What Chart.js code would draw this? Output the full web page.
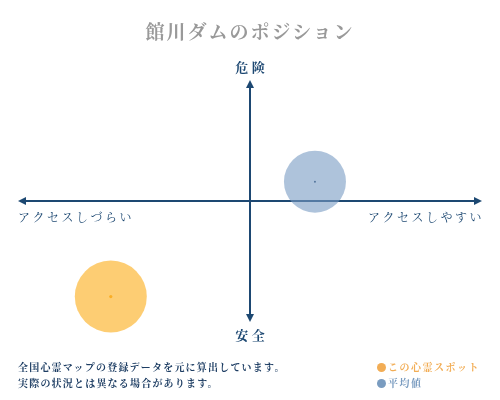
<!DOCTYPE html>
<html>
<head>
<meta charset="utf-8">
<script src="https://cdn.jsdelivr.net/npm/chart.js@4"></script>
<style>
  body { margin: 0; background: #fff; }
  #wrap { position: relative; width: 500px; height: 400px; font-family: "Noto Serif CJK JP", "Noto Sans CJK JP", sans-serif; }
  #chart { position: absolute; left: 0; top: 0; }
  .title { position: absolute; left: 0; width: 500px; top: 17px; text-align: center; font-size: 19px; letter-spacing: 2px; color: #999; font-weight: bold; }
  .note { position: absolute; left: 18px; top: 359px; font-size: 10px; line-height: 16px; letter-spacing: 1.2px; color: #1d3d63; font-weight: bold; }
  .legend { position: absolute; left: 377px; top: 359px; font-size: 10px; line-height: 16px; letter-spacing: 1.5px; font-weight: bold; }
  .legend span.dot { display: inline-block; width: 9px; height: 9px; border-radius: 50%; margin-right: 2px; vertical-align: -1px; }
</style>
</head>
<body>
<div id="wrap">
  <canvas id="chart" width="500" height="400"></canvas>
  <div class="title">館川ダムのポジション</div>
  <div class="note">全国心霊マップの登録データを元に算出しています。<br>実際の状況とは異なる場合があります。</div>
  <div class="legend" id="legend"></div>
</div>
<script>
// position of this spot and average, x: access (easy +), y: danger (+)
const seriesNames = ["この心霊スポット", "平均値"];
const xValues = [-6.0, 2.8];
const yValues = [-7.9, 1.6];
const radii = [36, 31];
const axisLabels = { top: "危 険", bottom: "安 全", left: "アクセスしづらい", right: "アクセスしやすい" };

const fillColors = ['rgba(252, 178, 40, 0.65)', 'rgba(120, 155, 195, 0.6)'];
const dotColors = ['#f5a623', '#1d3d63'];
const legendColors = ['#f2ad55', '#7a9cc0'];
const navy = '#1d4872';

const legend = document.getElementById("legend");
legend.innerHTML = seriesNames.map((n, i) =>
  `<div style="color:${legendColors[i]}"><span class="dot" style="background:${legendColors[i]}"></span>${n}</div>`
).join("");

const axesPlugin = {
  id: 'axesPlugin',
  beforeDatasetsDraw(chart) {
    const ctx = chart.ctx;
    const x = chart.scales.x, y = chart.scales.y;
    const x0 = x.getPixelForValue(0), y0 = y.getPixelForValue(0);
    const L = x.getPixelForValue(x.min), R = x.getPixelForValue(x.max);
    const T = y.getPixelForValue(y.max), B = y.getPixelForValue(y.min);
    ctx.save();
    ctx.strokeStyle = navy;
    ctx.fillStyle = navy;
    ctx.lineWidth = 2;
    ctx.beginPath();
    ctx.moveTo(L + 4, y0); ctx.lineTo(R - 4, y0);
    ctx.moveTo(x0, T + 4); ctx.lineTo(x0, B - 4);
    ctx.stroke();
    const head = (tx, ty, dx, dy) => {
      ctx.beginPath();
      ctx.moveTo(tx, ty);
      ctx.lineTo(tx - dx * 8 - dy * 4, ty - dy * 8 - dx * 4);
      ctx.lineTo(tx - dx * 8 + dy * 4, ty - dy * 8 + dx * 4);
      ctx.closePath();
      ctx.fill();
    };
    head(L, y0, -1, 0);
    head(R, y0, 1, 0);
    head(x0, T, 0, -1);
    head(x0, B, 0, 1);

    ctx.font = 'bold 13px "Noto Serif CJK JP", "Noto Sans CJK JP", sans-serif';
    ctx.textBaseline = 'middle';
    ctx.textAlign = 'center';
    ctx.fillText(axisLabels.top, x0, T - 13);
    ctx.fillText(axisLabels.bottom, x0, B + 13);
    ctx.font = '12px "Noto Serif CJK JP", "Noto Sans CJK JP", sans-serif';
    ctx.letterSpacing = '2.5px';
    ctx.textAlign = 'left';
    ctx.fillText(axisLabels.left, L, y0 + 16);
    ctx.textAlign = 'right';
    ctx.fillText(axisLabels.right, R + 2, y0 + 16);
    ctx.restore();
  }
};

const datasets = seriesNames.map((name, i) => ({
  label: name,
  data: [{ x: xValues[i], y: yValues[i], r: radii[i] }],
  backgroundColor: fillColors[i],
  borderWidth: 0,
  hoverRadius: 0,
  clip: false
}));
// small marks at the centres
seriesNames.forEach((name, i) => {
  datasets.push({
    label: name + " centre",
    data: [{ x: xValues[i], y: yValues[i], r: i === 0 ? 1.6 : 1 }],
    backgroundColor: dotColors[i],
    borderWidth: 0,
    clip: false
  });
});

new Chart(document.getElementById("chart"), {
  type: 'bubble',
  data: { datasets: datasets },
  options: {
    responsive: false,
    animation: false,
    events: [],
    layout: { autoPadding: false, padding: { left: 18, right: 18, top: 80, bottom: 78 } },
    plugins: { legend: { display: false }, tooltip: { enabled: false }, title: { display: false } },
    scales: {
      x: { display: false, min: -10, max: 10 },
      y: { display: false, min: -10, max: 10 }
    }
  },
  plugins: [axesPlugin]
});
</script>
</body>
</html>
